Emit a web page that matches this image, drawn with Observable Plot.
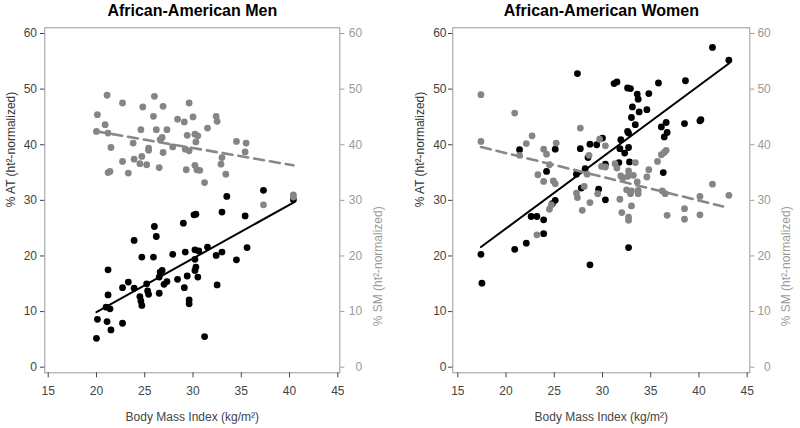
<!DOCTYPE html>
<html><head><meta charset="utf-8">
<script src="https://cdn.jsdelivr.net/npm/d3@7"></script>
<script src="https://cdn.jsdelivr.net/npm/@observablehq/plot@0.6"></script>
<style>
html,body{margin:0;padding:0;background:#fff;}
#wrap{display:flex;width:800px;height:428px;overflow:hidden;}
#wrap svg{flex:0 0 400px;max-width:none;}
</style></head><body><div id="wrap"></div>
<script>
// ---- labels & ticks ----
const xTicks = [15, 20, 25, 30, 35, 40, 45];
const yTicks = [0, 10, 20, 30, 40, 50, 60];
const panelTitles = ["African-American Men", "African-American Women"];
const xLabel = "Body Mass Index (kg/m²)";
const atLabel = "% AT (ht²-normalized)";
const smLabel = "% SM (ht²-normalized)";

// ---- Men: % AT (black) ----
const menAT_bmi = [20.0,20.1,21.1,21.5,21.0,21.4,21.2,21.2,22.7,22.7,23.3,23.9,23.9,24.7,24.5,24.6,24.7,25.2,25.3,25.4,25.9,26.0,26.2,26.5,26.5,26.6,26.8,27.0,27.3,27.9,28.4,29.0,29.2,29.1,29.4,29.6,29.6,30.1,30.3,30.2,30.6,30.2,30.3,30.2,30.5,31.2,31.5,32.4,33.0,32.5,33.0,33.5,34.5,35.4,35.6,37.3,40.4];
const menAT_pct = [5.2,8.6,8.2,6.7,10.8,10.5,13.0,17.5,7.9,14.3,15.3,14.2,22.8,19.8,12.7,11.9,11.1,15.0,13.7,13.1,19.8,25.3,23.5,13.3,16.2,17.1,17.4,14.9,15.4,20.3,15.8,25.9,20.7,14.3,16.4,12.1,11.4,27.4,27.5,21.1,20.9,19.4,18.0,17.4,16.2,5.5,21.6,20.1,20.7,14.8,27.9,30.7,19.3,27.2,21.5,31.8,30.1];
// ---- Men: % SM (gray) ----
const menSM_bmi = [21.1,26.0,22.7,29.6,24.8,26.9,20.1,25.9,28.4,29.1,30.0,32.4,32.5,20.9,20.0,21.2,24.6,26.2,27.3,31.5,29.4,30.2,30.5,30.3,26.8,26.6,21.5,23.8,25.4,25.4,27.9,29.2,29.6,34.5,35.5,35.4,33.0,32.9,26.9,22.7,23.9,24.7,24.5,25.2,26.5,21.2,21.4,23.3,29.3,30.2,30.4,30.7,31.2,33.4,37.3,40.4,40.4];
const menSM_pct = [48.9,48.7,47.5,47.5,46.8,46.9,45.4,45.1,44.6,44.1,45.0,45.1,44.2,43.6,42.4,42.1,42.7,42.7,42.7,43.0,41.7,41.9,41.6,40.5,41.3,40.9,39.5,40.3,39.4,39.0,39.6,39.2,38.9,40.6,40.3,38.7,37.7,36.5,38.6,37.0,37.4,37.9,36.6,36.4,35.9,35.0,35.2,34.9,35.5,36.3,35.5,35.4,33.2,34.7,29.2,31.0,30.6];
// fitted lines (end points)
const menATfit_bmi = [20.0, 40.4];
const menATfit_pct = [9.9, 29.6];
const menSMfit_bmi = [20.0, 40.4];
const menSMfit_pct = [42.4, 36.3];

// ---- Women: % AT (black) ----
const womenAT_bmi = [17.4,17.5,20.9,22.1,22.6,23.2,23.9,23.9,24.8,25.1,24.2,21.4,25.1,27.3,27.8,27.4,27.7,28.2,28.5,28.7,28.7,29.4,29.6,30.0,30.3,30.3,31.2,31.5,31.7,31.9,31.8,32.3,32.6,32.7,32.7,32.8,32.7,32.6,32.9,33.1,33.0,33.4,33.6,33.7,33.8,34.6,34.8,35.8,36.1,36.6,36.7,36.4,36.3,38.5,38.6,40.1,40.2,41.4,43.1];
const womenAT_pct = [20.3,15.1,21.2,22.3,27.1,27.1,26.5,24.0,29.4,30.0,35.2,39.1,39.2,34.7,32.2,52.8,39.3,35.7,37.7,40.1,18.4,40.0,32.0,41.2,30.1,36.5,51.0,51.3,36.8,40.9,39.3,38.5,42.4,42.1,39.5,36.9,21.5,50.2,50.1,46.8,44.9,43.6,49.1,48.2,45.9,46.3,49.2,51.1,43.2,44.0,42.2,41.4,35.0,43.8,51.5,44.3,44.5,57.5,55.2];
// ---- Women: % SM (gray) ----
const womenSM_bmi = [17.4,17.4,20.9,21.4,22.1,22.7,23.3,23.2,23.9,23.9,24.2,24.5,24.5,24.7,24.9,25.1,25.2,27.3,27.4,27.7,27.9,28.1,28.4,28.6,28.7,29.5,29.7,30.3,29.9,30.3,31.3,31.5,31.8,31.9,32.1,32.0,32.7,32.7,32.7,32.5,32.9,33.0,33.0,33.4,33.6,33.7,33.7,32.6,33.2,34.6,34.8,35.7,36.1,36.4,36.6,36.2,36.5,36.7,38.5,38.5,40.1,40.1,41.4,43.1];
const womenSM_pct = [49.0,40.6,45.7,38.1,40.2,41.6,34.6,23.8,33.4,39.2,38.3,36.4,28.4,29.2,33.5,33.0,40.3,31.3,30.5,43.0,28.2,32.5,34.7,38.1,29.6,31.2,41.0,39.8,36.1,36.0,36.6,35.8,30.2,34.4,34.0,27.8,27.0,26.4,35.3,31.9,31.2,31.7,29.0,36.8,33.3,31.8,31.2,34.3,34.5,34.2,35.5,37.0,38.2,38.6,39.0,31.7,31.2,27.3,28.5,26.6,30.7,27.4,32.9,30.9];
const womenATfit_bmi = [17.4, 43.1];
const womenATfit_pct = [21.6, 54.6];
const womenSMfit_bmi = [17.4, 42.5];
const womenSMfit_pct = [39.6, 28.9];

const zip = (a, b) => a.map((v, i) => ({bmi: v, pct: b[i]}));

function panel(cfg) {
  const font = "'Liberation Sans', Arial, Helvetica, sans-serif";
  return Plot.plot({
    width: 400,
    height: 428,
    marginLeft: cfg.ml,
    marginRight: cfg.mr,
    marginTop: 27.3,
    marginBottom: 55.7,
    style: {fontFamily: font, fontSize: "12px", background: "#fff", overflow: "visible"},
    x: {domain: [xTicks[0], xTicks[xTicks.length - 1]], range: cfg.xr},
    y: {domain: [yTicks[0], yTicks[yTicks.length - 1]], range: [366.7, 33]},
    marks: [
      Plot.frame({stroke: "#9a9a9a"}),
      Plot.axisY({anchor: "left", ticks: yTicks, tickSize: 4.3, tickPadding: cfg.lp, label: null, color: "#444", fontSize: 12}),
      Plot.axisY({anchor: "right", ticks: yTicks, tickSize: 4, tickPadding: cfg.rp, textAnchor: "end", label: null, color: "#9a9a9a", fontSize: 12}),
      Plot.axisX({anchor: "bottom", ticks: xTicks, tickSize: 5, tickPadding: 9, label: null, color: "#444", fontSize: 12}),
      Plot.dot(zip(cfg.atB, cfg.atP), {x: "bmi", y: "pct", r: 3.4, fill: "#000", stroke: null}),
      Plot.dot(zip(cfg.smB, cfg.smP), {x: "bmi", y: "pct", r: 3.4, fill: "#858585", stroke: null}),
      Plot.line(zip(cfg.atFB, cfg.atFP), {x: "bmi", y: "pct", stroke: "#000", strokeWidth: 2}),
      Plot.line(zip(cfg.smFB, cfg.smFP), {x: "bmi", y: "pct", stroke: "#888", strokeWidth: 2.6, strokeDasharray: "10,6"}),
      Plot.text([cfg.title], {text: d => d, frameAnchor: "top", dy: -12, lineAnchor: "bottom", fontWeight: "bold", fontSize: 16, fill: "#000"}),
      Plot.text([xLabel], {text: d => d, frameAnchor: "bottom", dy: 48.4, lineAnchor: "bottom", fontSize: 12, fill: "#444"}),
      Plot.text([atLabel], {text: d => d, frameAnchor: "left", rotate: -90, dx: cfg.ldx, dy: 7, fontSize: 12, fill: "#333"}),
      Plot.text([smLabel], {text: d => d, frameAnchor: "right", rotate: -90, dx: cfg.rdx, dy: 6, fontSize: 12, fill: "#9a9a9a"})
    ]
  });
}

const wrap = document.getElementById("wrap");
wrap.appendChild(panel({
  title: panelTitles[0], ml: 44.3, mr: 60.7, xr: [47.7, 337.3], lp: 3.5, rp: 18.4, ldx: -33.3, rdx: 38.7,
  atB: menAT_bmi, atP: menAT_pct, smB: menSM_bmi, smP: menSM_pct,
  atFB: menATfit_bmi, atFP: menATfit_pct, smFB: menSMfit_bmi, smFP: menSMfit_pct
}));
wrap.appendChild(panel({
  title: panelTitles[1], ml: 52.3, mr: 50.7, xr: [57.3, 346.7], lp: 2, rp: 17, ldx: -32.3, rdx: 36.4,
  atB: womenAT_bmi, atP: womenAT_pct, smB: womenSM_bmi, smP: womenSM_pct,
  atFB: womenATfit_bmi, atFP: womenATfit_pct, smFB: womenSMfit_bmi, smFP: womenSMfit_pct
}));
</script></body></html>
